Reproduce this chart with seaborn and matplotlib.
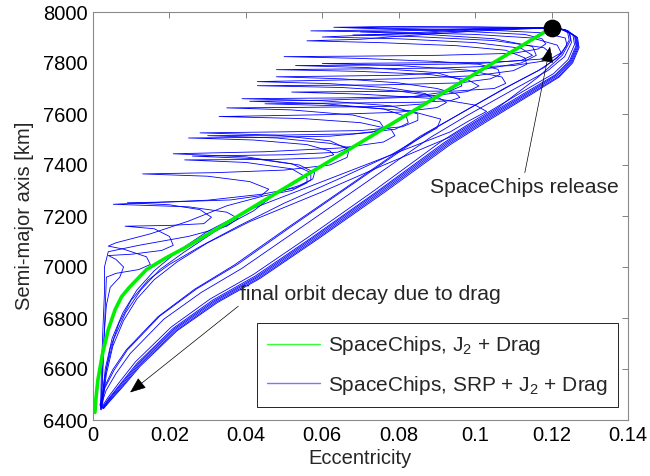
import pandas as pd
import matplotlib
matplotlib.use("Agg")
import matplotlib.pyplot as plt
import seaborn as sns
from matplotlib.lines import Line2D

# ---------------- data (eccentricity, semi-major axis [km]) ----------------
X_TICKS = [0, 0.02, 0.04, 0.06, 0.08, 0.1, 0.12, 0.14]
X_TICK_LABELS = ["0", "0.02", "0.04", "0.06", "0.08", "0.1", "0.12", "0.14"]
Y_TICKS = [6400, 6600, 6800, 7000, 7200, 7400, 7600, 7800, 8000]

RELEASE_E = [0.1200]
RELEASE_A = [7938]

GREEN = [(0.1200, 7938), (0.1000, 7758), (0.0800, 7578), (0.0600, 7398), (0.0400, 7218),
         (0.0300, 7128), (0.0240, 7075), (0.0190, 7035), (0.0140, 6990), (0.0115, 6951),
         (0.0095, 6920), (0.0075, 6884), (0.0058, 6833), (0.0040, 6755), (0.0025, 6660),
         (0.0013, 6559), (0.0008, 6490), (0.0005, 6430)]

# lower band (orbits that first gain eccentricity, then decay)
B1 = [(0.1200, 7938), (0.1240, 7928), (0.1268, 7900), (0.1272, 7860), (0.1255, 7800), (0.1220, 7745),
      (0.1150, 7680), (0.1030, 7570), (0.0935, 7480), (0.0760, 7290), (0.0586, 7107), (0.0437, 6955),
      (0.0325, 6860), (0.0220, 6750), (0.0123, 6610), (0.0079, 6532), (0.0045, 6475), (0.0028, 6445)]
B1B = [(0.1200, 7938), (0.1239, 7928), (0.1266, 7901), (0.1270, 7862), (0.1253, 7802), (0.1218, 7747),
       (0.1147, 7682), (0.1026, 7572), (0.0931, 7482), (0.0756, 7292), (0.0583, 7109), (0.0434, 6957),
       (0.0322, 6862), (0.0218, 6752), (0.0121, 6613), (0.0078, 6535), (0.0044, 6477), (0.0027, 6445)]
B2 = [(0.1200, 7938), (0.1237, 7929), (0.1264, 7903), (0.1268, 7864), (0.1251, 7805), (0.1215, 7750),
      (0.1143, 7684), (0.1022, 7574), (0.0927, 7484), (0.0752, 7294), (0.0579, 7111), (0.0431, 6960),
      (0.0319, 6865), (0.0215, 6755), (0.0119, 6616), (0.0076, 6538), (0.0043, 6480), (0.0026, 6446)]
B2B = [(0.1200, 7938), (0.1236, 7930), (0.1262, 7904), (0.1266, 7866), (0.1249, 7807), (0.1212, 7752),
       (0.1140, 7686), (0.1018, 7576), (0.0923, 7486), (0.0748, 7296), (0.0575, 7113), (0.0428, 6962),
       (0.0316, 6867), (0.0212, 6757), (0.0117, 6619), (0.0074, 6541), (0.0042, 6482), (0.0025, 6446)]
B3 = [(0.1200, 7938), (0.1234, 7931), (0.1260, 7906), (0.1264, 7868), (0.1247, 7809), (0.1210, 7754),
      (0.1136, 7688), (0.1014, 7578), (0.0919, 7488), (0.0745, 7298), (0.0572, 7115), (0.0425, 6965),
      (0.0313, 6870), (0.0210, 6760), (0.0115, 6622), (0.0073, 6544), (0.0041, 6484), (0.0024, 6447)]
B4 = [(0.1200, 7938), (0.1231, 7932), (0.1256, 7909), (0.1260, 7872), (0.1243, 7813), (0.1205, 7758),
      (0.1129, 7692), (0.1006, 7582), (0.0911, 7492), (0.0738, 7302), (0.0565, 7119), (0.0419, 6970),
      (0.0307, 6875), (0.0205, 6765), (0.0111, 6628), (0.0070, 6550), (0.0039, 6488), (0.0022, 6448)]
B5 = [(0.1200, 7938), (0.1225, 7934), (0.1248, 7915), (0.1252, 7880), (0.1234, 7825), (0.1190, 7770),
      (0.1105, 7700), (0.0980, 7595), (0.0885, 7510), (0.0708, 7325), (0.0535, 7145), (0.0390, 6995),
      (0.0283, 6900), (0.0185, 6795), (0.0097, 6660), (0.0060, 6582), (0.0034, 6515), (0.0020, 6452)]
B6 = [(0.1200, 7938), (0.1220, 7936), (0.1242, 7920), (0.1246, 7890), (0.1226, 7836), (0.1180, 7782),
      (0.1092, 7712), (0.0965, 7605), (0.0870, 7522), (0.0692, 7338), (0.0520, 7160), (0.0378, 7010),
      (0.0272, 6915), (0.0175, 6808), (0.0090, 6675), (0.0055, 6595), (0.0031, 6525), (0.0019, 6455)]
T6 = [(0.1200, 7938), (0.1000, 7940), (0.0750, 7941), (0.0660, 7939), (0.0850, 7934), (0.1050, 7928),
      (0.1180, 7918), (0.1236, 7898), (0.1240, 7870), (0.1215, 7820), (0.1165, 7770), (0.1078, 7702),
      (0.0950, 7592), (0.0855, 7512), (0.0680, 7330), (0.0510, 7155), (0.0370, 7008), (0.0265, 6912),
      (0.0170, 6805), (0.0087, 6675), (0.0052, 6598), (0.0030, 6530), (0.0018, 6458)]

# orbits between the green curve and the lower band
M3 = [(0.1200, 7938), (0.1245, 7925), (0.1250, 7890), (0.1228, 7830), (0.1165, 7745), (0.1060, 7625),
      (0.0935, 7510), (0.0750, 7393), (0.0600, 7295), (0.0410, 7178), (0.0300, 7095), (0.0220, 7020),
      (0.0160, 6950), (0.0115, 6875), (0.0080, 6790), (0.0052, 6690), (0.0035, 6580), (0.0024, 6450)]

# oscillating orbits (SRP): spikes towards low eccentricity
T1 = [(0.1200, 7938), (0.1000, 7942), (0.0800, 7943), (0.0630, 7940), (0.0800, 7932), (0.1000, 7922),
      (0.1130, 7912), (0.1175, 7895), (0.1185, 7875), (0.1165, 7855), (0.1100, 7838), (0.0900, 7830),
      (0.0700, 7827), (0.0500, 7825), (0.0700, 7818), (0.0900, 7806), (0.1010, 7795), (0.1060, 7775),
      (0.1065, 7755), (0.1040, 7738), (0.0960, 7722), (0.0750, 7714), (0.0430, 7711), (0.0650, 7704),
      (0.0800, 7690), (0.0900, 7668), (0.0925, 7645), (0.0900, 7625), (0.0800, 7607), (0.0600, 7597),
      (0.0330, 7590), (0.0550, 7582), (0.0700, 7566), (0.0780, 7540), (0.0790, 7515), (0.0760, 7490),
      (0.0650, 7467), (0.0450, 7452), (0.0210, 7444), (0.0400, 7432), (0.0520, 7405), (0.0570, 7370),
      (0.0570, 7340), (0.0530, 7310), (0.0440, 7285), (0.0300, 7262), (0.0053, 7246), (0.0250, 7236),
      (0.0350, 7215), (0.0380, 7190), (0.0350, 7160), (0.0250, 7120), (0.0120, 7085), (0.0040, 7060),
      (0.0030, 7000), (0.0030, 6900), (0.0026, 6760), (0.0022, 6600), (0.0020, 6450)]
T2 = [(0.1200, 7938), (0.1000, 7935), (0.0800, 7930), (0.0570, 7926), (0.0800, 7920), (0.1000, 7912),
      (0.1150, 7898), (0.1215, 7870), (0.1225, 7840), (0.1190, 7810), (0.1100, 7790), (0.0900, 7780),
      (0.0700, 7777), (0.0480, 7774), (0.0700, 7767), (0.0880, 7755), (0.0980, 7735), (0.1010, 7710),
      (0.0980, 7688), (0.0880, 7670), (0.0650, 7663), (0.0390, 7660), (0.0600, 7652), (0.0780, 7632),
      (0.0850, 7600), (0.0850, 7575), (0.0810, 7550), (0.0700, 7535), (0.0500, 7530), (0.0280, 7526),
      (0.0480, 7517), (0.0620, 7495), (0.0670, 7460), (0.0665, 7430), (0.0620, 7400), (0.0500, 7380),
      (0.0320, 7370), (0.0130, 7365), (0.0300, 7356), (0.0410, 7335), (0.0460, 7305), (0.0440, 7280),
      (0.0360, 7263), (0.0200, 7255), (0.0090, 7252), (0.0200, 7244), (0.0280, 7225), (0.0310, 7195),
      (0.0290, 7170), (0.0200, 7163), (0.0084, 7160), (0.0160, 7150), (0.0200, 7120), (0.0210, 7085),
      (0.0180, 7065), (0.0100, 7050), (0.0040, 7045), (0.0060, 7030), (0.0080, 7000), (0.0070, 6960),
      (0.0045, 6920), (0.0035, 6850), (0.0030, 6750), (0.0025, 6600), (0.0020, 6440)]
T3 = [(0.1200, 7938), (0.1000, 7925), (0.0800, 7905), (0.0700, 7893), (0.0560, 7887), (0.0750, 7880),
      (0.0950, 7868), (0.1080, 7850), (0.1130, 7820), (0.1135, 7795), (0.1100, 7770), (0.1000, 7750),
      (0.0800, 7738), (0.0600, 7732), (0.0430, 7727), (0.0620, 7719), (0.0780, 7702), (0.0870, 7680),
      (0.0895, 7655), (0.0870, 7640), (0.0780, 7630), (0.0550, 7626), (0.0350, 7624), (0.0520, 7616),
      (0.0680, 7596), (0.0750, 7570), (0.0760, 7548), (0.0730, 7528), (0.0620, 7513), (0.0420, 7508),
      (0.0250, 7506), (0.0420, 7498), (0.0560, 7480), (0.0620, 7455), (0.0630, 7440), (0.0600, 7428),
      (0.0480, 7422), (0.0240, 7420), (0.0400, 7410), (0.0520, 7385), (0.0560, 7350), (0.0560, 7330),
      (0.0520, 7300), (0.0450, 7280), (0.0350, 7240), (0.0250, 7180), (0.0150, 7130), (0.0060, 7095),
      (0.0040, 7082), (0.0080, 7070), (0.0140, 7040), (0.0150, 7010), (0.0120, 6990), (0.0060, 6975),
      (0.0035, 6960), (0.0033, 6880), (0.0030, 6760), (0.0026, 6600), (0.0022, 6440)]
T4 = [(0.1200, 7938), (0.1000, 7930), (0.0850, 7915), (0.0680, 7910), (0.0850, 7903), (0.1050, 7888),
      (0.1180, 7860), (0.1200, 7835), (0.1170, 7815), (0.1050, 7803), (0.0800, 7800), (0.0600, 7798),
      (0.0800, 7790), (0.0980, 7772), (0.1070, 7745), (0.1080, 7720), (0.1050, 7700), (0.0950, 7690),
      (0.0700, 7688), (0.0520, 7686), (0.0700, 7678), (0.0900, 7660), (0.1000, 7635), (0.1030, 7610),
      (0.0980, 7570), (0.0935, 7530), (0.0750, 7422), (0.0600, 7335), (0.0410, 7225), (0.0300, 7140),
      (0.0220, 7060), (0.0160, 6985), (0.0115, 6910), (0.0078, 6820), (0.0050, 6720), (0.0032, 6600),
      (0.0022, 6450)]
T5 = [(0.1200, 7938), (0.1050, 7932), (0.0850, 7928), (0.0700, 7922), (0.0850, 7914), (0.1050, 7895),
      (0.1150, 7865), (0.1160, 7830), (0.1120, 7800), (0.1000, 7770), (0.0800, 7752), (0.0600, 7748),
      (0.0480, 7746), (0.0650, 7738), (0.0800, 7722), (0.0900, 7700), (0.0950, 7680), (0.0960, 7665),
      (0.0935, 7652), (0.0850, 7646), (0.0650, 7643), (0.0450, 7640), (0.0650, 7632), (0.0830, 7612),
      (0.0910, 7580), (0.0900, 7545), (0.0780, 7440), (0.0650, 7350), (0.0500, 7250), (0.0380, 7160),
      (0.0280, 7080), (0.0200, 7010), (0.0145, 6950), (0.0100, 6870), (0.0068, 6780), (0.0045, 6680),
      (0.0030, 6560), (0.0020, 6445)]
T7 = [(0.1200, 7938), (0.1000, 7933), (0.0800, 7915), (0.0600, 7902), (0.0800, 7895), (0.1000, 7880),
      (0.1120, 7858), (0.1150, 7830), (0.1120, 7810), (0.1000, 7797), (0.0750, 7792), (0.0530, 7790),
      (0.0720, 7782), (0.0900, 7762), (0.0960, 7735), (0.0965, 7710), (0.0930, 7688), (0.0820, 7665),
      (0.0600, 7654), (0.0410, 7650), (0.0600, 7641), (0.0760, 7620), (0.0820, 7590), (0.0825, 7565),
      (0.0790, 7540), (0.0680, 7522), (0.0480, 7517), (0.0300, 7515), (0.0480, 7506), (0.0620, 7485),
      (0.0670, 7468), (0.0640, 7450), (0.0500, 7440), (0.0260, 7435), (0.0420, 7425), (0.0540, 7400),
      (0.0580, 7370), (0.0575, 7345), (0.0540, 7320), (0.0480, 7290), (0.0420, 7220), (0.0320, 7140),
      (0.0240, 7060), (0.0175, 6990), (0.0125, 6910), (0.0085, 6820), (0.0055, 6720), (0.0035, 6600),
      (0.0022, 6450)]

BLUE_TRAJECTORIES = {"B1": B1, "B1B": B1B, "B2": B2, "B2B": B2B, "B3": B3, "B4": B4,
                     "B5": B5, "B6": B6, "T6": T6, "M3": M3, "T1": T1, "T2": T2,
                     "T3": T3, "T4": T4, "T5": T5, "T7": T7}

LEGEND_LABELS = ["SpaceChips, J$_2$ + Drag", "SpaceChips, SRP + J$_2$ + Drag"]
X_LABEL = "Eccentricity"
Y_LABEL = "Semi-major axis [km]"
RELEASE_TEXT = "SpaceChips release"
DECAY_TEXT = "final orbit decay due to drag"

# ---------------- figure ----------------
sns.set_theme(style="white")
plt.rcParams["font.family"] = ["Liberation Sans", "DejaVu Sans"]
plt.rcParams["mathtext.fontset"] = "custom"
plt.rcParams["mathtext.rm"] = "Liberation Sans"
plt.rcParams["mathtext.it"] = "Liberation Sans"
plt.rcParams["mathtext.default"] = "regular"

fig = plt.figure(figsize=(6.5, 4.76), dpi=100)
ax = fig.add_axes([93 / 650, 56 / 476, 535 / 650, 408 / 476])

rows = []
for name, pts in BLUE_TRAJECTORIES.items():
    for i, (e, a) in enumerate(pts):
        rows.append({"traj": name, "order": i, "e": e, "a": a})
df_blue = pd.DataFrame(rows)
df_green = pd.DataFrame(GREEN, columns=["e", "a"])

sns.lineplot(data=df_blue, x="e", y="a", units="traj", estimator=None, sort=False,
             color="#0000ff", lw=0.6, ax=ax, legend=False)
sns.lineplot(data=df_green, x="e", y="a", estimator=None, sort=False,
             color="#00f000", lw=2.6, ax=ax, legend=False)
sns.scatterplot(x=RELEASE_E, y=RELEASE_A, color="black", s=140, ax=ax, zorder=5,
                edgecolor="black", legend=False)

ax.set_xlim(0, 0.14)
ax.set_ylim(6400, 8000)
ax.set_xticks(X_TICKS)
ax.set_xticklabels(X_TICK_LABELS)
ax.set_yticks(Y_TICKS)
ax.set_yticklabels([str(v) for v in Y_TICKS])
ax.tick_params(direction="in", length=4, width=0.7, color="#808080", labelsize=14.5,
               top=True, right=True, labelcolor="black", pad=4)
for sp in ax.spines.values():
    sp.set_color("#8a8a8a")
    sp.set_linewidth(0.8)
ax.set_xlabel(X_LABEL, fontsize=14.5, labelpad=3)
ax.set_ylabel(Y_LABEL, fontsize=14.5, labelpad=6)

# annotations
arrow_kw = dict(arrowstyle="-|>,head_length=1.0,head_width=0.4", color="black", lw=0.5,
                mutation_scale=10, shrinkA=0, shrinkB=0)
ax.annotate("", xy=(0.1196, 7864), xytext=(0.1130, 7370), arrowprops=arrow_kw)
ax.text(0.1130, 7311, RELEASE_TEXT, ha="center", va="center", fontsize=15.2)
ax.annotate("", xy=(0.0097, 6508), xytext=(0.0380, 6846), arrowprops=arrow_kw)
ax.text(0.0725, 6892, DECAY_TEXT, ha="center", va="center", fontsize=15.2)

handles = [Line2D([], [], color="#33ff33", lw=1.0), Line2D([], [], color="#7777ff", lw=1.0)]
leg = ax.legend(handles, LEGEND_LABELS, loc="lower right", bbox_to_anchor=(0.981, 0.032),
                fontsize=15, frameon=True, fancybox=False, framealpha=1,
                edgecolor="black", handlelength=2.55, labelspacing=0.8, borderpad=0.5,
                handletextpad=0.35, borderaxespad=0.0)
leg.get_frame().set_linewidth(0.6)

fig.savefig("out.png", dpi=100)
